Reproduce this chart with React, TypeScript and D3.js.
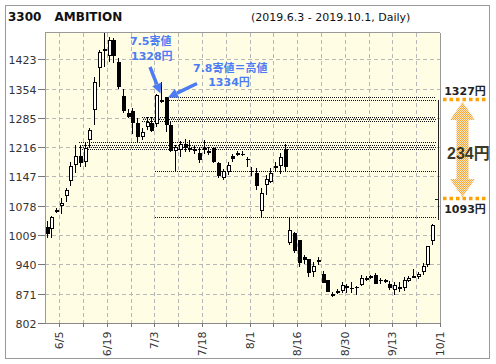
import React from 'react';
import * as d3 from 'd3';

const opens = [1029,1023,1067,1078,1100,1137,1173,1195,1180,1233,1304,1402,1444,1431,1468,1416,1337,1297,1301,1272,1239,1263,1272,1270,1328,1334,1268,1208,1210,1224,1212,1212,1203,1212,1207,1213,1178,1143,1158,1196,1200,1201,1188,1161,1155,1066,1127,1133,1171,1172,1211,991,1015,997,958,952,923,949,917,903,870,872,878,888,885,887,891,906,912,915,903,903,895,880,886,884,901,911,910,923,939,996];
const highs = [1041,1055,1072,1096,1119,1180,1221,1221,1225,1260,1382,1445,1486,1476,1472,1425,1352,1305,1308,1284,1261,1286,1286,1341,1370,1334,1276,1220,1231,1236,1234,1218,1217,1233,1217,1217,1180,1165,1180,1200,1206,1206,1193,1170,1166,1119,1150,1166,1182,1202,1223,1052,1016,998,962,953,946,958,924,904,875,882,899,895,899,890,915,913,914,920,908,906,901,899,899,910,913,928,922,943,984,1036];
const lows = [1001,1001,1062,1058,1088,1125,1155,1170,1170,1213,1268,1358,1404,1417,1415,1354,1296,1285,1248,1225,1233,1256,1252,1264,1320,1252,1205,1160,1192,1205,1205,1200,1178,1200,1198,1179,1143,1138,1150,1180,1195,1196,1170,1147,1115,1051,1103,1131,1158,1153,1158,986,966,935,940,910,910,939,896,874,864,870,872,873,873,869,890,900,905,894,895,896,879,868,876,877,899,907,905,916,935,986];
const closes = [1012,1051,1068,1085,1115,1172,1195,1178,1213,1256,1370,1440,1446,1468,1431,1358,1300,1287,1274,1239,1252,1276,1255,1338,1322,1268,1208,1216,1224,1213,1214,1206,1186,1213,1208,1182,1147,1160,1174,1189,1202,1199,1187,1160,1125,1107,1140,1155,1172,1192,1170,1022,972,943,950,920,936,951,897,876,871,877,891,889,884,886,907,907,908,895,902,898,884,891,887,903,909,912,917,936,983,1032];

const yTicks = [802, 871, 940, 1009, 1078, 1147, 1216, 1285, 1354, 1423];
const xTickLabels = ['6/5', '6/19', '7/3', '7/18', '8/1', '8/16', '8/30', '9/13', '10/1'];
const xTickIndex = [2, 12, 22, 32, 42, 52, 62, 72, 82];
const xMinorIndex = [7, 17, 27, 37, 47, 57, 67, 77];

const levelPrices = [[1334, 1328], [1288, 1283, 1278], [1227, 1222, 1217, 1212], [1161], [1052]];
const levelStart = [25.2, 19.8, 6.6, 22.5, 22.5];
const levelEnd = 81.6;

const rangeHigh = 1327;
const rangeLow = 1093;
const rangeBottom = 1045;

const W = 496, H = 364;
const L = 45, R = 440, T = 32.5, B = 323;
const OFF = 0.65;
const FONT = '"DejaVu Sans", "Noto Sans CJK JP", sans-serif';
const BLUE = '#4c7cf4';
const ORANGE = '#ffa200';

export default function App() {
  const x = d3.scaleLinear().domain([-1, 82]).range([L, R]);
  const y = d3.scaleLinear().domain([802, 1486]).range([B, T]);
  const cx = (i: number) => Math.round(x(i - OFF)) + 0.5;
  const py = (v: number) => Math.round(y(v)) + 0.5;

  const allTicks = [...xTickIndex, ...xMinorIndex];

  const ax = 462.5;
  const top = y(rangeHigh) + 2;
  const bot = y(rangeLow) - 2.5;
  const hw = 12.5, hh = 18, sw = 6;
  const arrowPath = `M${ax},${top} L${ax + hw},${top + hh} L${ax + sw},${top + hh} L${ax + sw},${bot - hh} L${ax + hw},${bot - hh} L${ax},${bot} L${ax - hw},${bot - hh} L${ax - sw},${bot - hh} L${ax - sw},${top + hh} L${ax - hw},${top + hh} Z`;

  const blueArrow = (x1: number, y1: number, x2: number, y2: number) => {
    const ang = Math.atan2(y2 - y1, x2 - x1);
    const hl = 10, hwid = 5;
    const bx = x2 - hl * Math.cos(ang), by = y2 - hl * Math.sin(ang);
    const nx = -Math.sin(ang), ny = Math.cos(ang);
    return (
      <g>
        <line x1={x1} y1={y1} x2={bx} y2={by} stroke={BLUE} strokeWidth={3.5} />
        <path d={`M${x2},${y2} L${bx + nx * hwid},${by + ny * hwid} L${bx - nx * hwid},${by - ny * hwid} Z`} fill={BLUE} />
      </g>
    );
  };

  const tip1x = cx(24) - 1, tip1y = y(1328) - 6;
  const tip2x = cx(25) + 1.5, tip2y = y(1334) + 0.5;

  return (
    <svg width={W} height={H} style={{ position: 'absolute', left: 0, top: 0, background: '#fff' }} fontFamily={FONT}>
      <defs>
        <pattern id="chk" width={2} height={2} patternUnits="userSpaceOnUse">
          <rect width={2} height={2} fill="#fde7c4" />
          <rect width={1} height={1} fill="#f7a73a" />
          <rect x={1} y={1} width={1} height={1} fill="#f7a73a" />
        </pattern>
      </defs>
      <rect x={5.5} y={5.5} width={484} height={353} fill="#fff" stroke="#999" />
      <rect x={L} y={T} width={R - L} height={B - T} fill="#fffde3" />
      {yTicks.map((t) => (
        <line key={'gy' + t} x1={L} x2={R} y1={py(t)} y2={py(t)} stroke="#b8b8b8" strokeDasharray="4,3" shapeRendering="crispEdges" />
      ))}
      {allTicks.map((t) => (
        <line key={'gx' + t} x1={Math.round(x(t)) + 0.5} x2={Math.round(x(t)) + 0.5} y1={T} y2={B} stroke="#b8b8b8" strokeDasharray="4,3" shapeRendering="crispEdges" />
      ))}
      <line x1={L - 2} x2={R} y1={B + 0.5} y2={B + 0.5} stroke="#888" shapeRendering="crispEdges" />
      <line x1={L + 0.5} x2={L + 0.5} y1={T} y2={B} stroke="#999" shapeRendering="crispEdges" />
      <line x1={L} x2={R} y1={T} y2={T} stroke="#999" shapeRendering="crispEdges" />
      <line x1={R + 0.5} x2={R + 0.5} y1={T} y2={B} stroke="#999" shapeRendering="crispEdges" />
      {yTicks.map((t) => (
        <g key={'yt' + t}>
          <line x1={38} x2={L} y1={py(t)} y2={py(t)} stroke="#777" shapeRendering="crispEdges" />
          <text x={36.5} y={py(t) + 4} textAnchor="end" fontSize={11} fill="#333">{t}</text>
        </g>
      ))}
      {allTicks.map((t) => (
        <line key={'xt' + t} x1={Math.round(x(t)) + 0.5} x2={Math.round(x(t)) + 0.5} y1={B} y2={B + 4} stroke="#777" shapeRendering="crispEdges" />
      ))}
      {xTickIndex.map((t, k) => (
        <text key={'xl' + t} transform={`translate(${x(t) + 4},${B + 8.5}) rotate(-90)`} textAnchor="end" fontSize={11} fill="#333">{xTickLabels[k]}</text>
      ))}
      {levelPrices.map((ps, k) => ps.map((p, j) => (
        <line key={'lv' + k + '-' + j} x1={cx(levelStart[k])} x2={cx(levelEnd)} y1={py(p)} y2={py(p)} stroke="#111" strokeDasharray="1,1" strokeDashoffset={j % 2} shapeRendering="crispEdges" />
      )))}
      {opens.map((o, i) => {
        const c = closes[i];
        const up = c >= o;
        const xc = cx(i);
        const yt = Math.round(y(Math.max(o, c)));
        const yb = Math.round(y(Math.min(o, c)));
        const h = Math.max(1, yb - yt);
        return (
          <g key={'c' + i} shapeRendering="crispEdges">
            <line x1={xc} x2={xc} y1={Math.max(T, y(highs[i]))} y2={y(lows[i])} stroke="#000" />
            {up ? (
              <rect x={xc - 2} y={yt + 0.5} width={3} height={Math.max(1, h - 1)} fill="#fff" stroke="#000" transform="translate(0.5,0)" />
            ) : (
              <rect x={xc - 2} y={yt} width={4} height={h} fill="#000" />
            )}
          </g>
        );
      })}
      <line x1={438.5} x2={438.5} y1={y(rangeHigh)} y2={y(rangeBottom)} stroke="#222" shapeRendering="crispEdges" />
      <line x1={435} x2={438.5} y1={py(rangeLow)} y2={py(rangeLow)} stroke="#222" shapeRendering="crispEdges" />
      <line x1={443} x2={488} y1={y(rangeHigh) - 0.5} y2={y(rangeHigh) - 0.5} stroke={ORANGE} strokeWidth={3.5} strokeDasharray="3.5,3" />
      <line x1={443} x2={488} y1={y(rangeLow) - 1} y2={y(rangeLow) - 1} stroke={ORANGE} strokeWidth={3.5} strokeDasharray="3.5,3" />
      <path d={arrowPath} fill="url(#chk)" />
      <text x={465} y={y(rangeHigh) - 5} textAnchor="middle" fontSize={11} fontWeight="bold" fill="#222">{rangeHigh}円</text>
      <text x={465} y={y(rangeLow) + 14} textAnchor="middle" fontSize={11} fontWeight="bold" fill="#222">{rangeLow}円</text>
      <text x={447} y={(y(rangeHigh) + y(rangeLow)) / 2 + 9} fontSize={16} fontWeight="bold" fill="#3a3a26" fontFamily='"Liberation Sans", "Noto Sans CJK JP", sans-serif'>{rangeHigh - rangeLow}円</text>
      {blueArrow(150, 67, tip1x, tip1y)}
      {blueArrow(197, 83.5, tip2x, tip2y)}
      <text x={130} y={45} fontSize={11} fontWeight="bold" fill={BLUE}>7.5寄値</text>
      <text x={131} y={60} fontSize={11} fontWeight="bold" fill={BLUE}>1328円</text>
      <text x={193} y={72} fontSize={11} fontWeight="bold" fill={BLUE}>7.8寄値＝高値</text>
      <text x={229} y={86} textAnchor="middle" fontSize={11} fontWeight="bold" fill={BLUE}>1334円</text>
      <text x={8} y={20.5} fontSize={12} fontWeight="bold" fill="#111">3300</text>
      <text x={54.5} y={20.5} fontSize={12} fontWeight="bold" fill="#111">AMBITION</text>
      <text x={251} y={20.5} fontSize={11} fill="#111">(2019.6.3 - 2019.10.1, Daily)</text>
    </svg>
  );
}
